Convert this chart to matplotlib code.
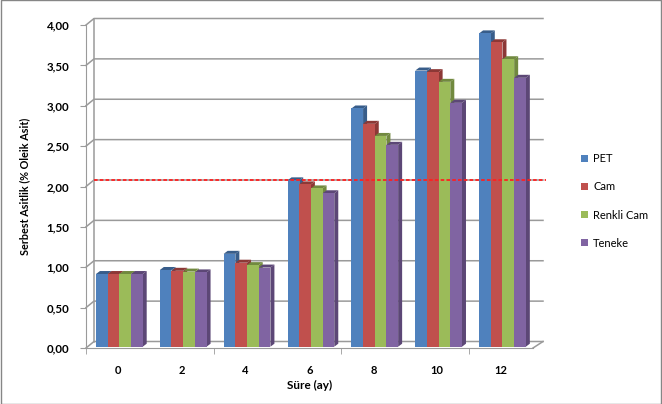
import matplotlib
matplotlib.use("Agg")
import matplotlib.pyplot as plt
from matplotlib.patches import Polygon, Patch, Rectangle
from matplotlib.transforms import IdentityTransform, offset_copy

# Data
months = ["0", "2", "4", "6", "8", "10", "12"]
series_names = ["PET", "Cam", "Renkli Cam", "Teneke"]
pet = [0.90, 0.95, 1.15, 2.06, 2.95, 3.42, 3.88]
cam = [0.90, 0.94, 1.04, 2.01, 2.76, 3.40, 3.77]
renkli_cam = [0.90, 0.93, 1.01, 1.96, 2.61, 3.28, 3.56]
teneke = [0.90, 0.92, 0.98, 1.90, 2.50, 3.02, 3.33]
limit_value = 2.0
y_ticks = [0, 0.5, 1.0, 1.5, 2.0, 2.5, 3.0, 3.5, 4.0]

front_colors = ["#4F81BD", "#C0504D", "#9BBB59", "#8064A2"]
dark_colors = ["#385D8A", "#8C3836", "#71893F", "#5C4776"]

plt.rcParams['font.family'] = ['Lato', 'DejaVu Sans']

W, H = 662, 404
fig = plt.figure(figsize=(W / 100, H / 100), dpi=100)
ax = fig.add_axes([86 / W, (H - 348) / H, (533 - 86) / W, (348 - 25) / H])
ax.set_xlim(-0.5, len(months) - 0.5)
ax.set_ylim(0, 4)
ax.set_facecolor("none")

grid_c = "#9a9a9a"
for s in ax.spines.values():
    s.set_visible(False)
ax.spines['left'].set_visible(True)
ax.spines['bottom'].set_visible(True)
ax.spines['left'].set_color(grid_c)
ax.spines['bottom'].set_color(grid_c)

# Turkish decimal comma
ax.set_yticks(y_ticks)
ax.set_yticklabels([("%.2f" % v).replace(".", ",") for v in y_ticks])
ax.set_xticks(range(len(months)))
ax.set_xticklabels(months)
ax.set_xticks([-0.5, 1.5, 3.5, 5.5], minor=True)
ax.tick_params(axis='x', which='major', length=0, pad=12, labelsize=8)
ax.tick_params(axis='x', which='minor', length=4, color=grid_c)
ax.tick_params(axis='y', length=4, color=grid_c, pad=8, labelsize=8.3)
for t in ax.get_xticklabels() + ax.get_yticklabels():
    t.set_fontweight('bold')

ax.set_xlabel("Süre (ay)", fontsize=8.5, fontweight='bold', labelpad=3)
ax.set_ylabel("Serbest Asitlik (% Oleik Asit)", fontsize=7.8, fontweight='bold', labelpad=12)

fig.canvas.draw()
td = ax.transData
ident = IdentityTransform()

# back wall offsets (pixels) at left and right end
dxl, dxr, dy = 8, 10, 6.5
x_lo, x_hi = -0.5, len(months) - 0.5

# gridlines: side diagonal + back wall
for v in y_ticks:
    f = td.transform((x_lo, v))
    r = td.transform((x_hi, v))
    ax.plot([f[0], f[0] + dxl, r[0] + dxr], [f[1], f[1] + dy, r[1] + dy],
            color=grid_c, lw=1.1, transform=ident, clip_on=False, zorder=1)
# back wall left edge
b0 = td.transform((x_lo, 0))
b4 = td.transform((x_lo, 4))
ax.plot([b0[0] + dxl, b4[0] + dxl], [b0[1] + dy, b4[1] + dy],
        color=grid_c, lw=1.1, transform=ident, clip_on=False, zorder=1)
# floor right edge
fr = td.transform((x_hi, 0))
ax.plot([fr[0], fr[0] + dxr], [fr[1], fr[1] + dy],
        color=grid_c, lw=1.1, transform=ident, clip_on=False, zorder=1)

# bars with 3D faces
bw = 0.183
sx, sy = 1.4, 1.3
ddx, ddy = 4, 3
bar_tr = offset_copy(td, fig=fig, x=sx, y=sy, units='dots')
all_series = [pet, cam, renkli_cam, teneke]
z = 2
for i in range(len(months)):
    for k, vals in enumerate(all_series):
        x0 = i + (k - 2) * bw
        x1 = x0 + bw
        h = vals[i]
        p10 = td.transform((x1, 0)) + (sx, sy)
        p0h = td.transform((x0, h)) + (sx, sy)
        p1h = td.transform((x1, h)) + (sx, sy)
        side = [p10, p1h, p1h + (ddx, ddy), p10 + (ddx, ddy)]
        top = [p0h, p1h, p1h + (ddx, ddy), p0h + (ddx, ddy)]
        ax.add_patch(Polygon(side, closed=True, transform=ident, clip_on=False,
                             facecolor=dark_colors[k], edgecolor='none', zorder=z))
        ax.add_patch(Polygon(top, closed=True, transform=ident, clip_on=False,
                             facecolor=dark_colors[k], edgecolor='none', zorder=z))
        ax.bar(x0, h, width=bw, align='edge', color=front_colors[k],
               transform=bar_tr, clip_on=False, zorder=z + 0.5)
        z += 1

# limit line on back wall
l0 = td.transform((x_lo, limit_value))
l1 = td.transform((x_hi + 0.05, limit_value))
ax.plot([l0[0] + dxl, l1[0] + dxr], [l0[1] + dy, l1[1] + dy],
        color="#FF2020", lw=1.3, ls=(0, (2, 1.2)), transform=ident,
        clip_on=False, zorder=z + 5)

handles = [Patch(facecolor=c, edgecolor='none') for c in front_colors]
fig.legend(handles, series_names, loc='center left',
           bbox_to_anchor=(571 / W, (H - 201) / H), frameon=False,
           handlelength=0.6, handleheight=0.6, handletextpad=0.5,
           labelspacing=1.55, fontsize=8)

# outer chart border
fig.patches.append(Rectangle((0.0008, 0.0012), 0.9984, 0.9976, transform=fig.transFigure,
                             fill=False, edgecolor="#868686", lw=1))

fig.savefig("out.png", dpi=100)
